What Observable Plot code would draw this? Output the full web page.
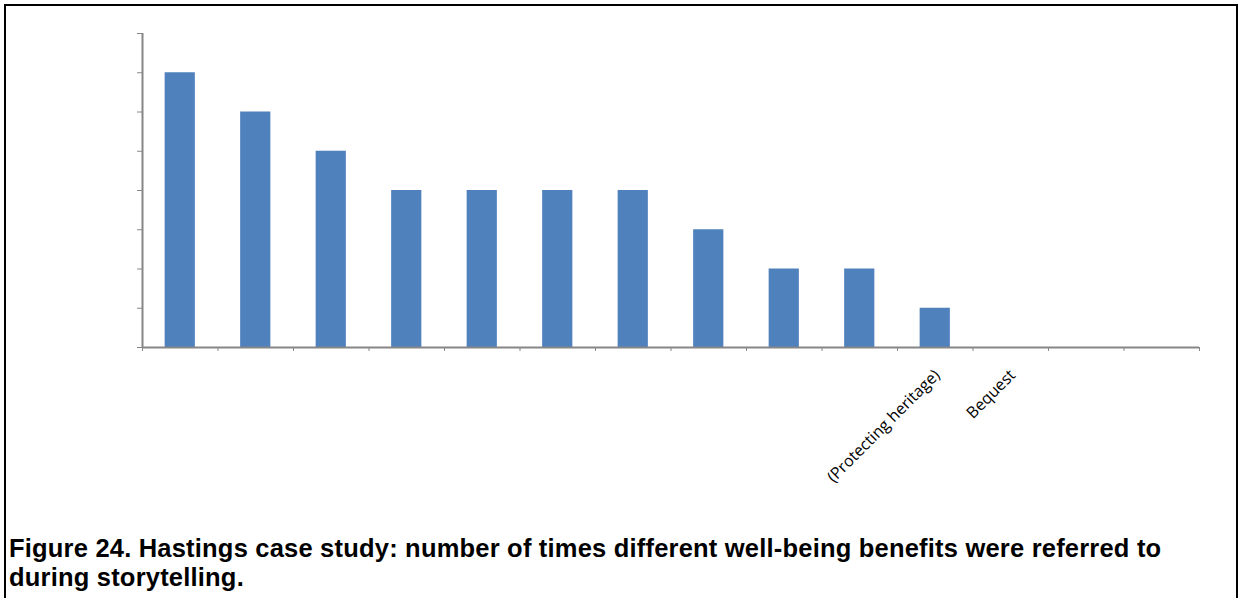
<!DOCTYPE html>
<html><head><meta charset="utf-8">
<script src="https://cdn.jsdelivr.net/npm/d3@7"></script>
<script src="https://cdn.jsdelivr.net/npm/@observablehq/plot@0.6"></script>
<style>
body{margin:0;background:#fff;width:1240px;height:598px;overflow:hidden;position:relative;font-family:"Open Sans",Lato,sans-serif}
#frame{position:absolute;left:4px;top:4px;width:1230px;height:640px;border:2px solid #000;border-bottom:none}
#chart{position:absolute;left:0;top:0}
#caption{position:absolute;left:9px;top:534px;font-family:"Liberation Sans",Arial,sans-serif;font-weight:bold;font-size:25.5px;letter-spacing:0.2px;line-height:28.6px;margin:0;color:#000;white-space:nowrap}
</style></head><body>
<div id="frame"></div>
<div id="chart"></div>
<p id="caption">Figure 24. Hastings case study: number of times different well-being benefits were referred to<br>during storytelling.</p>
<script>
const categoryIds = ["c1","c2","c3","c4","c5","c6","c7","c8","c9","c10","c11","c12","c13","c14"];
const categoryLabels = ["","","","","","","","","","","(Protecting heritage)","Bequest","",""];
const counts = [7,6,5,4,4,4,4,3,2,2,1,0,0,0];
const yTicks = [0,1,2,3,4,5,6,7,8];

const W = 1240, H = 500, mL = 142, mR = 41, mT = 33, mB = 153;
const step = (W - mL - mR) / categoryIds.length;
const data = categoryIds.map((id, i) => ({id, label: categoryLabels[i], value: counts[i]}));
const labelOf = new Map(data.map(d => [d.id, d.label]));
const axisGray = "#868686";

const chart = Plot.plot({
  width: W, height: H,
  marginLeft: mL, marginRight: mR, marginTop: mT, marginBottom: mB,
  style: {fontFamily: "'Open Sans', Lato, sans-serif", fontSize: "15px", color: "#000", background: "transparent"},
  x: {domain: categoryIds, paddingInner: 0.6, paddingOuter: 0.3, align: 0.5, round: false, label: null},
  y: {domain: [0, 8], label: null},
  marks: [
    Plot.barY(data, {x: "id", y: "value", fill: "#4F81BD"}),
    Plot.axisY({ticks: yTicks, tickSize: 5, tickFormat: () => "", stroke: axisGray, label: null}),
    Plot.axisX({tickSize: 0, tickPadding: 25, tickRotate: -45, dx: 2, tickFormat: d => labelOf.get(d), fill: "#000", label: null, fontSize: 16}),
    Plot.ruleX(categoryIds, {x: d => d, y1: 0, y2: 0, insetBottom: -4, dx: -step / 2, stroke: axisGray}),
    Plot.ruleX(categoryIds.slice(-1), {x: d => d, y1: 0, y2: 0, insetBottom: -4, dx: step / 2, stroke: axisGray}),
    Plot.ruleY([0], {stroke: axisGray, strokeWidth: 2}),
    Plot.ruleX(categoryIds.slice(0, 1), {x: d => d, y1: 0, y2: 8, dx: -step / 2, stroke: axisGray, strokeWidth: 2})
  ]
});
document.getElementById("chart").appendChild(chart);
</script>
</body></html>
